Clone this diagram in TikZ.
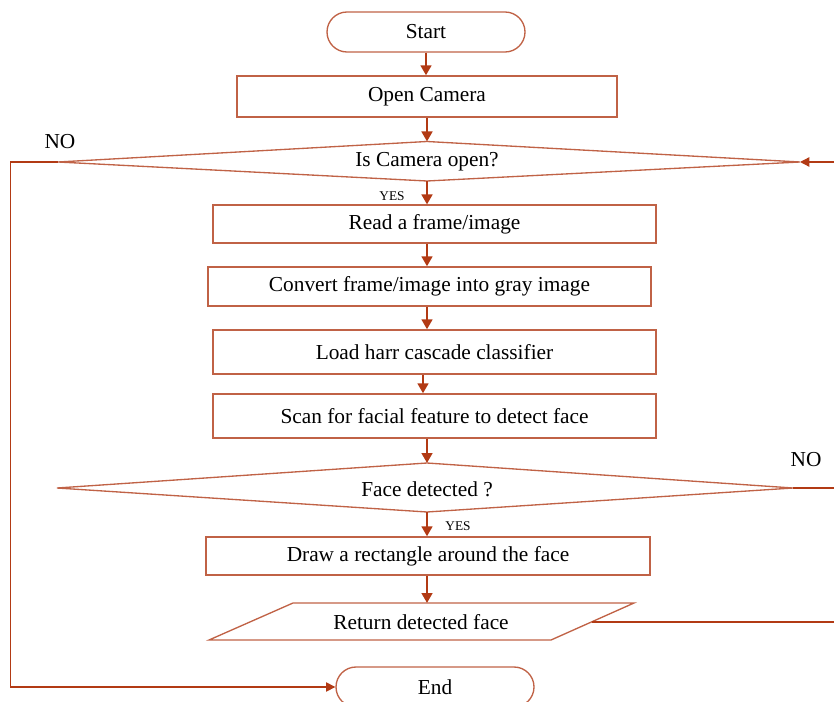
\documentclass[tikz,border=0pt]{standalone}
\usepackage{fontspec}
\setmainfont{Liberation Serif}
\usetikzlibrary{arrows.meta}
\definecolor{boxc}{RGB}{192,98,70}
\definecolor{arrc}{RGB}{178,58,20}
\begin{document}
\begin{tikzpicture}[x=0.75pt,y=-0.75pt,
  txt/.style={font=\fontsize{16}{18}\selectfont, inner sep=0pt},
  box/.style={draw=boxc, line width=1pt, rectangle, txt},
  term/.style={draw=boxc, line width=1pt, rectangle, rounded corners=15pt, minimum width=148.5pt, minimum height=30pt, txt},
  outl/.style={draw=boxc, line width=1pt, line join=miter},
  arr/.style={draw=arrc, line width=2pt, -{Triangle[length=7.5pt,width=8pt]}},
  thinarr/.style={draw=arrc, line width=1pt, -{Triangle[length=7pt,width=7pt]}},
  thinln/.style={draw=arrc, line width=1pt},
  small/.style={font=\fontsize{10}{11}\selectfont, inner sep=0pt},
  lbl/.style={font=\fontsize{16}{18}\selectfont, inner sep=0pt}]
\useasboundingbox (0,0) rectangle (834,702);
\clip (0,0) rectangle (834,702);
% terminals
\node[term] (start) at (426,32) {Start};
\node[term] (end) at (435,687) {End};
% process boxes
\node[box, minimum width=285pt, minimum height=30.75pt] (open) at (427,96.5) {Open Camera};
% diamond 1
\coordinate (d1l) at (58,162);
\coordinate (d1t) at (427,141.5);
\coordinate (d1r) at (800,162);
\coordinate (d1b) at (427,181);
\draw[outl] (d1l) -- (d1t) -- (d1r) -- (d1b) -- cycle;
\node[txt] (q1) at (427,162) {Is Camera open?};
\node[box, minimum width=332.25pt, minimum height=28.3pt] (read) at (434.5,224) {Read a frame/image};
\node[box, minimum width=332.25pt, minimum height=29.25pt] (conv) at (429.5,286.5) {Convert frame/image into gray image};
\node[box, minimum width=332.25pt, minimum height=33pt] (load) at (434.5,352) {Load harr cascade classifier};
\node[box, minimum width=332.25pt, minimum height=33pt] (scan) at (434.5,416) {Scan for facial feature to detect face};
% diamond 2
\coordinate (d2l) at (57,488);
\coordinate (d2t) at (427,463);
\coordinate (d2r) at (793,488);
\coordinate (d2b) at (427,512);
\draw[outl] (d2l) -- (d2t) -- (d2r) -- (d2b) -- cycle;
\node[txt] (q2) at (427,489) {Face detected ?};
\node[box, minimum width=333pt, minimum height=28.5pt] (draw) at (428,556) {Draw a rectangle around the face};
% parallelogram
\coordinate (pa) at (293,603);
\coordinate (pb) at (634,603);
\coordinate (pc) at (551,640);
\coordinate (pd) at (209,640);
\coordinate (pt) at (427,603);
\coordinate (pr) at (592,622);
\draw[outl] (pa) -- (pb) -- (pc) -- (pd) -- cycle;
\node[txt] (ret) at (421,622) {Return detected face};
% axes for arrows
\coordinate (ax1) at (426,0);
\coordinate (ax2) at (427,0);
\coordinate (ax3) at (423,0);
% main arrows
\draw[arr] (start.south -| ax1) -- (open.north -| ax1);
\draw[arr] (open.south -| ax2) -- (d1t);
\draw[arr] (d1b) -- (read.north -| ax2);
\draw[arr] (read.south -| ax2) -- (conv.north -| ax2);
\draw[arr] (conv.south -| ax2) -- (load.north -| ax2);
\draw[arr] (load.south -| ax3) -- (scan.north -| ax3);
\draw[arr] (scan.south -| ax2) -- (d2t);
\draw[arr] (d2b) -- (draw.north -| ax2);
\draw[arr] (draw.south -| ax2) -- (pt);
% labels
\node[small] (y1) at (392,196) {YES};
\node[small] (y2) at (458,526) {YES};
\node[lbl] (n1) at (60,142) {NO};
\node[lbl] (n2) at (806,460) {NO};
% loops
\coordinate (lc1) at (10.5,162);
\coordinate (lc2) at (10.5,687);
\draw[thinarr] (d1l) -- (lc1) -- (lc2) -- (end.west);
\coordinate (re1) at (834,162);
\draw[thinarr] (re1) -- (d1r);
\coordinate (re2) at (834,488);
\draw[thinln] (d2r) -- (re2);
\coordinate (re3) at (834,622);
\draw[thinln] (pr) -- (re3);
\end{tikzpicture}
\end{document}
